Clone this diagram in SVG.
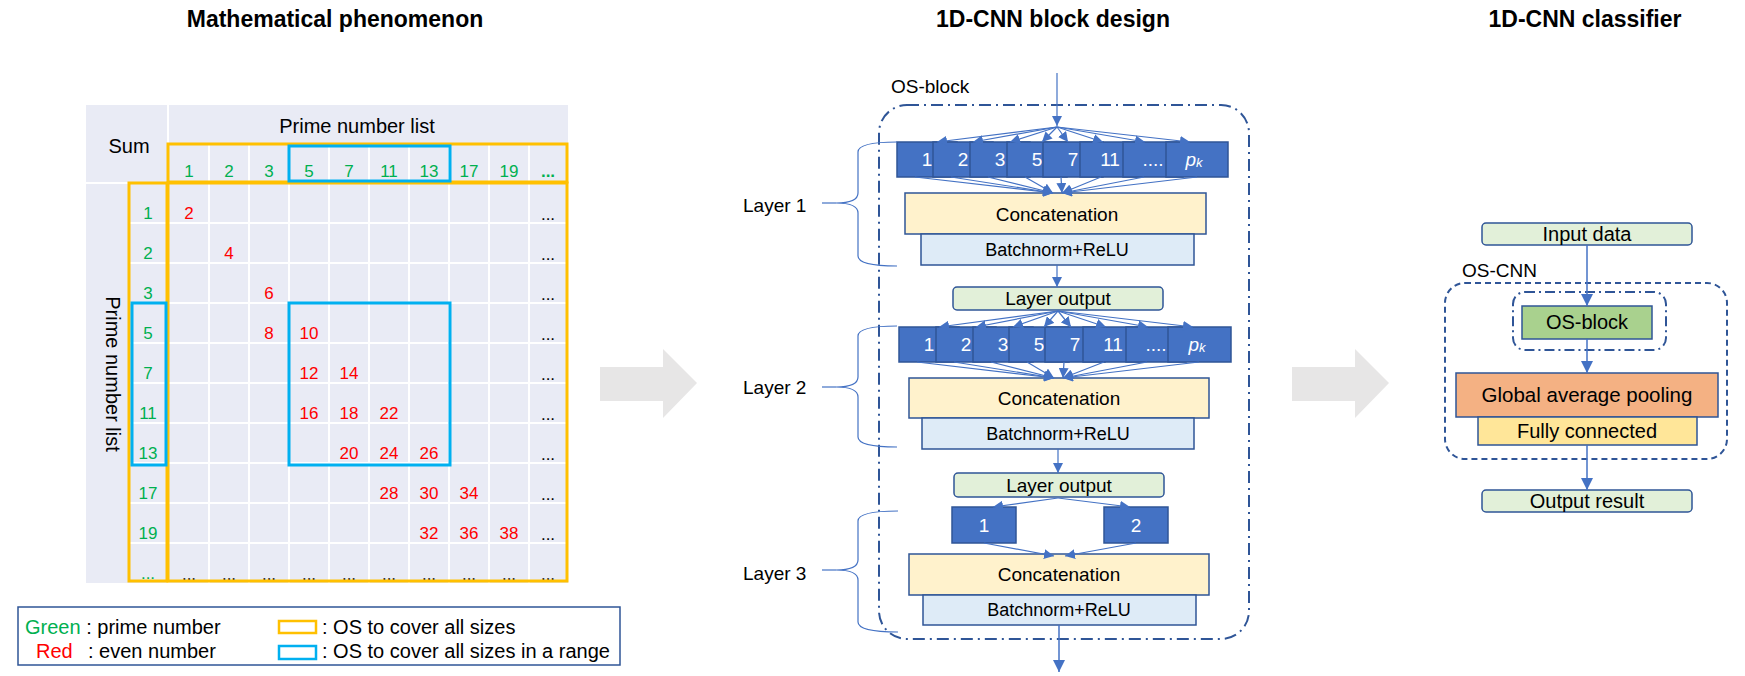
<svg xmlns="http://www.w3.org/2000/svg" width="1745" height="676" viewBox="0 0 1745 676">
<style>
text{font-family:"Liberation Sans",Arial,sans-serif;fill:#000}
.title{font-size:23px;font-weight:bold;text-anchor:middle}
.g{fill:#00B050;font-size:17px;text-anchor:middle}
.r{fill:#FF0000;font-size:17px;text-anchor:middle}
.d{font-size:17px;text-anchor:middle}
.wl{stroke:#fff;stroke-width:2}
.or{fill:none;stroke:#FFC000;stroke-width:3}
.bl{fill:none;stroke:#00B0F0;stroke-width:3}
.conv{fill:#4472C4;stroke:#2F5597;stroke-width:1.5}
.ct{fill:#fff;font-size:19px;text-anchor:middle}
.cat{fill:#FFF2CC;stroke:#2F5597;stroke-width:1.5}
.bn{fill:#DEEBF7;stroke:#2F5597;stroke-width:1.5}
.lo{fill:#E2F0D9;stroke:#2F5597;stroke-width:1.5}
.m{text-anchor:middle}
.lg{font-size:20px}
.lgg{fill:#00B050}
.lgr{fill:#FF0000}
.ln{stroke:#4472C4;stroke-width:1.2;fill:none}
.la{stroke:#4472C4;stroke-width:1.2;fill:none;marker-end:url(#ah)}
.la2{stroke:#4472C4;stroke-width:1.5;fill:none;marker-end:url(#ah2)}
.gray{fill:#E7E6E6}
</style>
<defs>
<marker id="ah" markerUnits="userSpaceOnUse" markerWidth="10" markerHeight="10" refX="10" refY="5" orient="auto" viewBox="0 0 10 10">
<path d="M0,0 L10,5 L0,10 z" fill="#4472C4"/>
</marker>
<marker id="ah2" markerUnits="userSpaceOnUse" markerWidth="12" markerHeight="12" refX="10" refY="5" orient="auto" viewBox="0 0 10 10">
<path d="M0,0 L10,5 L0,10 z" fill="#4472C4"/>
</marker>
</defs>

<!-- Titles -->
<text class="title" x="335" y="27">Mathematical phenomenon</text>
<text class="title" x="1053" y="27">1D-CNN block design</text>
<text class="title" x="1585" y="27">1D-CNN classifier</text>

<!-- Table -->
<g id="table">
<rect x="86" y="105" width="482" height="478" fill="#E9EBF5"/>
<g class="wl">
<line x1="168" y1="105" x2="168" y2="583"/>
<line x1="86" y1="183" x2="568" y2="183"/>
<line x1="209" y1="144" x2="209" y2="583"/>
<line x1="249" y1="144" x2="249" y2="583"/>
<line x1="289" y1="144" x2="289" y2="583"/>
<line x1="329" y1="144" x2="329" y2="583"/>
<line x1="369" y1="144" x2="369" y2="583"/>
<line x1="409" y1="144" x2="409" y2="583"/>
<line x1="449" y1="144" x2="449" y2="583"/>
<line x1="489" y1="144" x2="489" y2="583"/>
<line x1="529" y1="144" x2="529" y2="583"/>
<line x1="129" y1="223" x2="568" y2="223"/>
<line x1="129" y1="263" x2="568" y2="263"/>
<line x1="129" y1="303" x2="568" y2="303"/>
<line x1="129" y1="343" x2="568" y2="343"/>
<line x1="129" y1="383" x2="568" y2="383"/>
<line x1="129" y1="423" x2="568" y2="423"/>
<line x1="129" y1="463" x2="568" y2="463"/>
<line x1="129" y1="503" x2="568" y2="503"/>
<line x1="129" y1="543" x2="568" y2="543"/>
</g>
<text x="129" y="153" class="m" font-size="20">Sum</text>
<text x="357" y="133" class="m" font-size="20">Prime number list</text>
<text transform="translate(106,374) rotate(90)" class="m" font-size="20">Prime number list</text>
<!-- header numbers -->
<text class="g" x="189" y="177">1</text>
<text class="g" x="229" y="177">2</text>
<text class="g" x="269" y="177">3</text>
<text class="g" x="309" y="177">5</text>
<text class="g" x="349" y="177">7</text>
<text class="g" x="389" y="177">11</text>
<text class="g" x="429" y="177">13</text>
<text class="g" x="469" y="177">17</text>
<text class="g" x="509" y="177">19</text>
<text class="g" x="548" y="177" font-weight="bold" font-size="19">...</text>
<!-- row labels -->
<text class="g" x="148" y="219">1</text>
<text class="g" x="148" y="259">2</text>
<text class="g" x="148" y="299">3</text>
<text class="g" x="148" y="339">5</text>
<text class="g" x="148" y="379">7</text>
<text class="g" x="148" y="419">11</text>
<text class="g" x="148" y="459">13</text>
<text class="g" x="148" y="499">17</text>
<text class="g" x="148" y="539">19</text>
<text class="g" x="148" y="579">...</text>
<!-- red values -->
<text class="r" x="189" y="219">2</text>
<text class="r" x="229" y="259">4</text>
<text class="r" x="269" y="299">6</text>
<text class="r" x="269" y="339">8</text>
<text class="r" x="309" y="339">10</text>
<text class="r" x="309" y="379">12</text>
<text class="r" x="349" y="379">14</text>
<text class="r" x="309" y="419">16</text>
<text class="r" x="349" y="419">18</text>
<text class="r" x="389" y="419">22</text>
<text class="r" x="349" y="459">20</text>
<text class="r" x="389" y="459">24</text>
<text class="r" x="429" y="459">26</text>
<text class="r" x="389" y="499">28</text>
<text class="r" x="429" y="499">30</text>
<text class="r" x="469" y="499">34</text>
<text class="r" x="429" y="539">32</text>
<text class="r" x="469" y="539">36</text>
<text class="r" x="509" y="539">38</text>
<!-- dots last column -->
<text class="d" x="548" y="220">...</text>
<text class="d" x="548" y="260">...</text>
<text class="d" x="548" y="300">...</text>
<text class="d" x="548" y="340">...</text>
<text class="d" x="548" y="380">...</text>
<text class="d" x="548" y="420">...</text>
<text class="d" x="548" y="460">...</text>
<text class="d" x="548" y="500">...</text>
<text class="d" x="548" y="540">...</text>
<!-- dots last row -->
<text class="d" x="189" y="580">...</text>
<text class="d" x="229" y="580">...</text>
<text class="d" x="269" y="580">...</text>
<text class="d" x="309" y="580">...</text>
<text class="d" x="349" y="580">...</text>
<text class="d" x="389" y="580">...</text>
<text class="d" x="429" y="580">...</text>
<text class="d" x="469" y="580">...</text>
<text class="d" x="509" y="580">...</text>
<text class="d" x="548" y="580">...</text>
<!-- highlight boxes -->
<rect class="or" x="168" y="144" width="399" height="38"/>
<rect class="or" x="129" y="183" width="38" height="398"/>
<rect class="or" x="168" y="183" width="399" height="398"/>
<rect class="bl" x="289" y="146" width="161" height="35"/>
<rect class="bl" x="289" y="303" width="161" height="162"/>
<rect class="bl" x="132" y="303" width="34" height="162"/>
</g>

<!-- Legend -->
<g id="legend">
<rect x="18" y="607" width="602" height="58" fill="#fff" stroke="#2F5597" stroke-width="1.5"/>
<text x="25" y="634" class="lg"><tspan class="lgg">Green</tspan> : prime number</text>
<text x="36" y="658" class="lg lgr">Red</text>
<text x="88" y="658" class="lg">: even number</text>
<rect x="279" y="621" width="37" height="12" fill="none" stroke="#FFC000" stroke-width="2.5"/>
<rect x="279" y="646" width="37" height="13" fill="none" stroke="#00B0F0" stroke-width="2.5"/>
<text x="322" y="634" class="lg">: OS to cover all sizes</text>
<text x="322" y="658" class="lg">: OS to cover all sizes in a range</text>
</g>

<!-- Big gray arrows -->
<polygon id="arrow1" class="gray" points="600,367 663,367 663,349 697,383 663,418 663,401 600,401"/>
<polygon id="arrow2" class="gray" points="1292,367 1355,367 1355,349 1389,383 1355,418 1355,401 1292,401"/>

<!-- OS-block container -->
<g id="osblock">
<text x="891" y="93" font-size="19">OS-block</text>
<rect x="879" y="105" width="370" height="534" rx="28" fill="none" stroke="#2F5597" stroke-width="2" stroke-dasharray="12 5 2 5"/>
</g>

<!-- Layer 1 -->
<g id="layer1">
<rect class="conv" x="897" y="142" width="60" height="35"/><text class="ct" x="927" y="166">1</text>
<rect class="conv" x="933" y="142" width="60" height="35"/><text class="ct" x="963" y="166">2</text>
<rect class="conv" x="970" y="142" width="60" height="35"/><text class="ct" x="1000" y="166">3</text>
<rect class="conv" x="1007" y="142" width="60" height="35"/><text class="ct" x="1037" y="166">5</text>
<rect class="conv" x="1043" y="142" width="60" height="35"/><text class="ct" x="1073" y="166">7</text>
<rect class="conv" x="1080" y="142" width="60" height="35"/><text class="ct" x="1110" y="166">11</text>
<rect class="conv" x="1123" y="142" width="60" height="35"/><text class="ct" x="1153" y="166">....</text>
<rect class="conv" x="1166" y="142" width="62" height="35"/><text class="ct" x="1194" y="166"><tspan font-style="italic">p</tspan><tspan font-style="italic" font-size="13" dy="1">k</tspan></text>
<rect class="cat" x="905" y="193" width="301" height="41"/>
<text class="m" x="1057" y="221" font-size="19">Concatenation</text>
<rect class="bn" x="921" y="234" width="273" height="31"/>
<text class="m" x="1057" y="256" font-size="18">Batchnorm+ReLU</text>
<rect class="lo" x="953" y="287" width="210" height="23" rx="4"/>
<text class="m" x="1058" y="305" font-size="19">Layer output</text>
<text x="743" y="212" font-size="19">Layer 1</text>
</g>

<!-- Layer 2 -->
<g id="layer2">
<rect class="conv" x="899" y="327" width="60" height="35"/><text class="ct" x="929" y="351">1</text>
<rect class="conv" x="936" y="327" width="60" height="35"/><text class="ct" x="966" y="351">2</text>
<rect class="conv" x="973" y="327" width="60" height="35"/><text class="ct" x="1003" y="351">3</text>
<rect class="conv" x="1009" y="327" width="60" height="35"/><text class="ct" x="1039" y="351">5</text>
<rect class="conv" x="1045" y="327" width="60" height="35"/><text class="ct" x="1075" y="351">7</text>
<rect class="conv" x="1083" y="327" width="60" height="35"/><text class="ct" x="1113" y="351">11</text>
<rect class="conv" x="1126" y="327" width="60" height="35"/><text class="ct" x="1156" y="351">....</text>
<rect class="conv" x="1168" y="327" width="63" height="35"/><text class="ct" x="1197" y="351"><tspan font-style="italic">p</tspan><tspan font-style="italic" font-size="13" dy="1">k</tspan></text>
<rect class="cat" x="909" y="378" width="300" height="40"/>
<text class="m" x="1059" y="405" font-size="19">Concatenation</text>
<rect class="bn" x="922" y="418" width="272" height="31"/>
<text class="m" x="1058" y="440" font-size="18">Batchnorm+ReLU</text>
<rect class="lo" x="954" y="473" width="210" height="24" rx="4"/>
<text class="m" x="1059" y="492" font-size="19">Layer output</text>
<text x="743" y="394" font-size="19">Layer 2</text>
</g>

<!-- Layer 3 -->
<g id="layer3">
<rect class="conv" x="952" y="507" width="64" height="36"/><text class="ct" x="984" y="532">1</text>
<rect class="conv" x="1104" y="507" width="64" height="36"/><text class="ct" x="1136" y="532">2</text>
<rect class="cat" x="909" y="554" width="300" height="41"/>
<text class="m" x="1059" y="581" font-size="19">Concatenation</text>
<rect class="bn" x="923" y="595" width="273" height="30"/>
<text class="m" x="1059" y="616" font-size="18">Batchnorm+ReLU</text>
<text x="743" y="580" font-size="19">Layer 3</text>
</g>

<!-- Classifier -->
<g id="input-data">
<rect class="lo" x="1482" y="223" width="210" height="22" rx="4"/>
<text class="m" x="1587" y="241" font-size="20">Input data</text>
</g>
<g id="os-cnn">
<text x="1462" y="277" font-size="19">OS-CNN</text>
<rect x="1445" y="283" width="282" height="176" rx="20" fill="none" stroke="#2F5597" stroke-width="2" stroke-dasharray="6 4"/>
</g>
<g id="os-block-small">
<rect x="1513" y="292" width="153" height="58" rx="12" fill="none" stroke="#2F5597" stroke-width="2" stroke-dasharray="10 4 2 4"/>
<rect x="1522" y="306" width="130" height="33" fill="#A9D18E" stroke="#2F5597" stroke-width="1.5"/>
<text class="m" x="1587" y="329" font-size="20">OS-block</text>
</g>
<g id="gap">
<rect x="1456" y="373" width="262" height="44" fill="#F4B183" stroke="#2F5597" stroke-width="1.5"/>
<text class="m" x="1587" y="402" font-size="20.5">Global average pooling</text>
</g>
<g id="fc">
<rect x="1478" y="417" width="219" height="28" fill="#FFE699" stroke="#2F5597" stroke-width="1.5"/>
<text class="m" x="1587" y="438" font-size="20">Fully connected</text>
</g>
<g id="output-result">
<rect class="lo" x="1482" y="490" width="210" height="22" rx="4"/>
<text class="m" x="1587" y="508" font-size="20">Output result</text>
</g>

<!-- Connectors -->
<g id="connectors">
<!-- braces -->
<path class="ln" d="M897,142 Q858,142 858,152 L858,193 Q858,203 836,203 Q858,203 858,213 L858,256 Q858,266 897,266"/>
<path class="ln" d="M897,326 Q858,326 858,336 L858,377 Q858,387 836,387 Q858,387 858,397 L858,437 Q858,447 897,447"/>
<path class="ln" d="M898,511 Q858,511 858,521 L858,560 Q858,570 836,570 Q858,570 858,580 L858,622 Q858,632 898,632"/>
<line class="ln" x1="822" y1="203" x2="836" y2="203"/>
<line class="ln" x1="822" y1="387" x2="836" y2="387"/>
<line class="ln" x1="822" y1="570" x2="836" y2="570"/>
<!-- input -->
<line class="la" x1="1057" y1="73" x2="1057" y2="126"/>
<!-- layer 1 fan out -->
<line class="la" x1="1057" y1="127" x2="937" y2="142"/>
<line class="la" x1="1057" y1="127" x2="973" y2="142"/>
<line class="la" x1="1057" y1="127" x2="1010" y2="142"/>
<line class="la" x1="1057" y1="127" x2="1042" y2="142"/>
<line class="la" x1="1057" y1="127" x2="1068" y2="142"/>
<line class="la" x1="1057" y1="127" x2="1103" y2="142"/>
<line class="la" x1="1057" y1="127" x2="1145" y2="142"/>
<line class="la" x1="1057" y1="127" x2="1190" y2="142"/>
<!-- layer 1 fan in -->
<line class="la" x1="915" y1="177" x2="1053" y2="193"/>
<line class="la" x1="951" y1="177" x2="1053" y2="193"/>
<line class="la" x1="988" y1="177" x2="1053" y2="193"/>
<line class="la" x1="1025" y1="177" x2="1053" y2="193"/>
<line class="la" x1="1061" y1="177" x2="1062" y2="193"/>
<line class="la" x1="1101" y1="177" x2="1062" y2="193"/>
<line class="la" x1="1144" y1="177" x2="1062" y2="193"/>
<line class="la" x1="1197" y1="177" x2="1062" y2="193"/>
<line class="la" x1="1057" y1="265" x2="1057" y2="287"/>
<!-- layer 2 fan out -->
<line class="la" x1="1058" y1="311" x2="939" y2="327"/>
<line class="la" x1="1058" y1="311" x2="976" y2="327"/>
<line class="la" x1="1058" y1="311" x2="1013" y2="327"/>
<line class="la" x1="1058" y1="311" x2="1044" y2="327"/>
<line class="la" x1="1058" y1="311" x2="1071" y2="327"/>
<line class="la" x1="1058" y1="311" x2="1106" y2="327"/>
<line class="la" x1="1058" y1="311" x2="1148" y2="327"/>
<line class="la" x1="1058" y1="311" x2="1193" y2="327"/>
<!-- layer 2 fan in -->
<line class="la" x1="917" y1="362" x2="1054" y2="378"/>
<line class="la" x1="954" y1="362" x2="1054" y2="378"/>
<line class="la" x1="991" y1="362" x2="1054" y2="378"/>
<line class="la" x1="1027" y1="362" x2="1054" y2="378"/>
<line class="la" x1="1064" y1="362" x2="1063" y2="378"/>
<line class="la" x1="1104" y1="362" x2="1063" y2="378"/>
<line class="la" x1="1147" y1="362" x2="1063" y2="378"/>
<line class="la" x1="1199" y1="362" x2="1063" y2="378"/>
<line class="la" x1="1058" y1="449" x2="1058" y2="473"/>
<!-- layer 3 -->
<line class="la" x1="1058" y1="498" x2="993" y2="507"/>
<line class="la" x1="1058" y1="498" x2="1130" y2="507"/>
<line class="la" x1="984" y1="543" x2="1054" y2="556"/>
<line class="la" x1="1136" y1="543" x2="1065" y2="556"/>
<line class="la2" x1="1059" y1="625" x2="1059" y2="672"/>
<!-- classifier -->
<line class="la2" x1="1587" y1="245" x2="1587" y2="306"/>
<line class="la2" x1="1587" y1="339" x2="1587" y2="373"/>
<line class="la2" x1="1587" y1="445" x2="1587" y2="490"/>
</g>
</svg>
